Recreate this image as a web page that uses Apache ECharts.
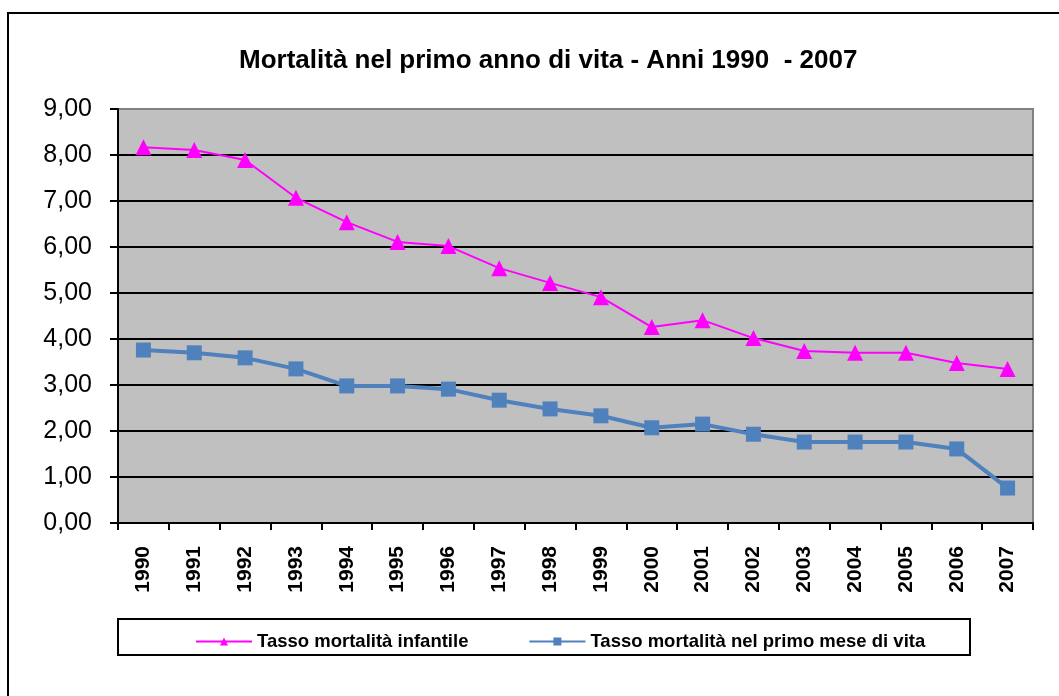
<!DOCTYPE html>
<html>
<head>
<meta charset="utf-8">
<script src="https://cdn.jsdelivr.net/npm/echarts@6/dist/echarts.min.js"></script>
<style>
  html, body { margin: 0; padding: 0; background: #fff; }
  #chart { width: 1059px; height: 696px; }
</style>
</head>
<body>
<div id="chart"></div>
<script>
  var anni = ['1990', '1991', '1992', '1993', '1994', '1995', '1996', '1997', '1998',
              '1999', '2000', '2001', '2002', '2003', '2004', '2005', '2006', '2007'];
  var mortalitaInfantile = [8.17, 8.11, 7.89, 7.07, 6.54, 6.11, 6.02, 5.54, 5.22,
                            4.91, 4.26, 4.41, 4.02, 3.74, 3.70, 3.70, 3.48, 3.35];
  var mortalitaPrimoMese = [3.76, 3.70, 3.59, 3.35, 2.98, 2.98, 2.91, 2.67, 2.48,
                            2.33, 2.07, 2.15, 1.93, 1.76, 1.76, 1.76, 1.61, 0.76];
  var nomiSerie = ['Tasso mortalità infantile', 'Tasso mortalità nel primo mese di vita'];

  var font = '"Liberation Sans", Arial, sans-serif';
  var chart = echarts.init(document.getElementById('chart'));

  // gridlines black, the top one is the grey plot border
  var gridColors = ['#000', '#000', '#000', '#000', '#000', '#000', '#000', '#000', '#000', '#808080'];

  var option = {
    animation: false,
    textStyle: { fontFamily: font },
    title: {
      text: 'Mortalità nel primo anno di vita - Anni 1990  - 2007',
      left: 234,
      top: 43,
      textStyle: { fontFamily: font, fontSize: 26, fontWeight: 'bold', color: '#000' }
    },
    graphic: [
      {
        type: 'rect',
        shape: { x: 8, y: 13, width: 1200, height: 900 },
        style: { fill: 'none', stroke: '#000', lineWidth: 2 },
        z: 100
      },
      {
        type: 'rect',
        shape: { x: 118, y: 619, width: 852, height: 36 },
        style: { fill: '#fff', stroke: '#000', lineWidth: 2 },
        z: 1
      }
    ],
    legend: {
      data: nomiSerie,
      left: 190,
      top: 627,
      itemWidth: 56,
      itemHeight: 10,
      itemGap: 60,
      textStyle: { fontFamily: font, fontSize: 18.5, fontWeight: 'bold', color: '#000' },
      z: 5
    },
    grid: {
      left: 118,
      top: 109,
      right: 26,
      bottom: 173,
      show: true,
      backgroundColor: '#c0c0c0',
      borderColor: '#808080',
      borderWidth: 2
    },
    xAxis: {
      type: 'category',
      data: anni,
      boundaryGap: true,
      axisLine: { lineStyle: { color: '#000', width: 2 } },
      axisTick: { show: true, length: 7, lineStyle: { color: '#000', width: 2 } },
      axisLabel: {
        rotate: 90,
        margin: 23,
        interval: 0,
        fontSize: 21,
        fontWeight: 'bold',
        color: '#000',
        fontFamily: font
      }
    },
    yAxis: {
      type: 'value',
      min: 0,
      max: 9,
      interval: 1,
      axisLine: { show: true, lineStyle: { color: '#000', width: 2 } },
      axisTick: { show: true, length: 8, lineStyle: { color: '#000', width: 2 } },
      axisLabel: {
        margin: 26,
        fontSize: 25,
        color: '#000',
        fontFamily: font,
        formatter: function (v) { return v.toFixed(2).replace('.', ','); }
      },
      splitLine: { show: true, lineStyle: { color: gridColors, width: 2 } }
    },
    series: [
      {
        name: nomiSerie[0],
        type: 'line',
        data: mortalitaInfantile,
        color: '#ff00ff',
        symbol: 'triangle',
        symbolSize: 16,
        lineStyle: { color: '#ff00ff', width: 2 },
        itemStyle: { color: '#ff00ff' },
        z: 3
      },
      {
        name: nomiSerie[1],
        type: 'line',
        data: mortalitaPrimoMese,
        color: '#4f81bd',
        symbol: 'rect',
        symbolSize: 15,
        lineStyle: { color: '#4f81bd', width: 4 },
        itemStyle: { color: '#4f81bd' },
        z: 3
      }
    ]
  };

  chart.setOption(option);
  window.addEventListener('resize', chart.resize);
</script>
</body>
</html>
